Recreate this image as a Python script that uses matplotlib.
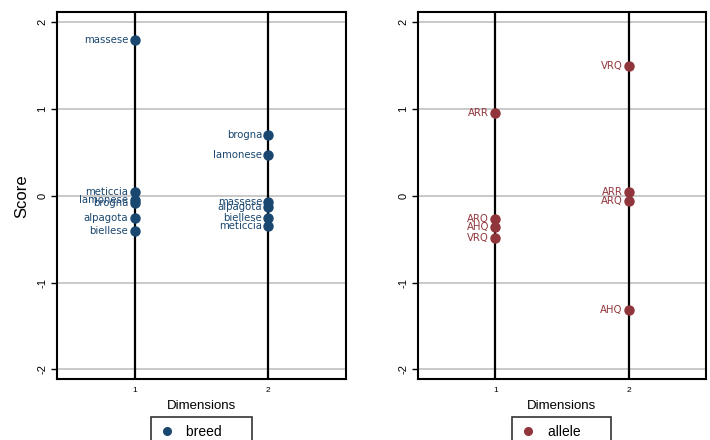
"""
Dimension scores for breed and allele (two panels)
"""
import matplotlib.pyplot as plt
from matplotlib.lines import Line2D

plt.rcParams['font.family'] = ['Liberation Sans', 'DejaVu Sans']

# breed panel
breed_names = ["massese", "meticcia", "lamonese", "brogna", "alpagota", "biellese",
               "brogna", "lamonese", "massese", "alpagota", "biellese", "meticcia"]
breed_dim = [1, 1, 1, 1, 1, 1, 2, 2, 2, 2, 2, 2]
breed_score = [1.79, 0.04, -0.05, -0.08, -0.26, -0.41,
               0.70, 0.47, -0.07, -0.13, -0.26, -0.345]

# allele panel
allele_names = ["ARR", "ARQ", "AHQ", "VRQ", "VRQ", "ARR", "ARQ", "AHQ"]
allele_dim = [1, 1, 1, 1, 2, 2, 2, 2]
allele_score = [0.95, -0.27, -0.36, -0.49, 1.49, 0.04, -0.06, -1.32]

BLUE = "#1a476f"
RED = "#90353b"

fig = plt.figure(figsize=(7.1, 4.4), dpi=100)
ax1 = fig.add_axes([0.0803, 0.1386, 0.407, 0.833])
ax2 = fig.add_axes([0.5887, 0.1386, 0.4056, 0.833])


def panel(ax, dims, scores, names, color, legend_label, ylabel=None):
    for y in [-2, -1, 0, 1, 2]:
        ax.axhline(y, color="#c0c0c0", lw=1.2, zorder=0)
    for x in [1, 2]:
        ax.axvline(x, color="black", lw=1.6, zorder=1)
    ax.plot(dims, scores, 'o', color=color, ms=6.5, zorder=3, linestyle='none')
    for x, y, s in zip(dims, scores, names):
        ax.annotate(s, (x, y), xytext=(-4.5, 0), textcoords='offset points',
                    ha='right', va='center', fontsize=7.3, color=color, zorder=2,
                    family='DejaVu Sans')
    ax.set_xlim(0.42, 2.58)
    ax.set_ylim(-2.11, 2.11)
    ax.set_xticks([1, 2])
    ax.set_xticklabels(["1", "2"], fontsize=6)
    ax.tick_params(axis='x', length=0, pad=6)
    ax.set_yticks([-2, -1, 0, 1, 2])
    ax.set_yticklabels(["-2", "-1", "0", "1", "2"], rotation=90, va='center', fontsize=8)
    ax.tick_params(axis='y', length=4, width=1, pad=3)
    for sp in ax.spines.values():
        sp.set_linewidth(1.5)
        sp.set_color("black")
    ax.set_xlabel("Dimensions", fontsize=9.5, labelpad=4)
    if ylabel:
        ax.set_ylabel(ylabel, fontsize=12, labelpad=6)
    handle = Line2D([], [], marker='o', color=color, linestyle='none', ms=5.5)
    leg = ax.legend([handle], [legend_label + "      "], loc='upper center',
                    bbox_to_anchor=(0.5, -0.104), frameon=True, fancybox=False,
                    edgecolor='black', fontsize=10, borderpad=0.55,
                    handletextpad=0.8, borderaxespad=0, handlelength=1.2)
    leg.get_frame().set_linewidth(1.2)


panel(ax1, breed_dim, breed_score, breed_names, BLUE, "breed", ylabel="Score")
panel(ax2, allele_dim, allele_score, allele_names, RED, "allele")

fig.savefig("out.png", dpi=100)
